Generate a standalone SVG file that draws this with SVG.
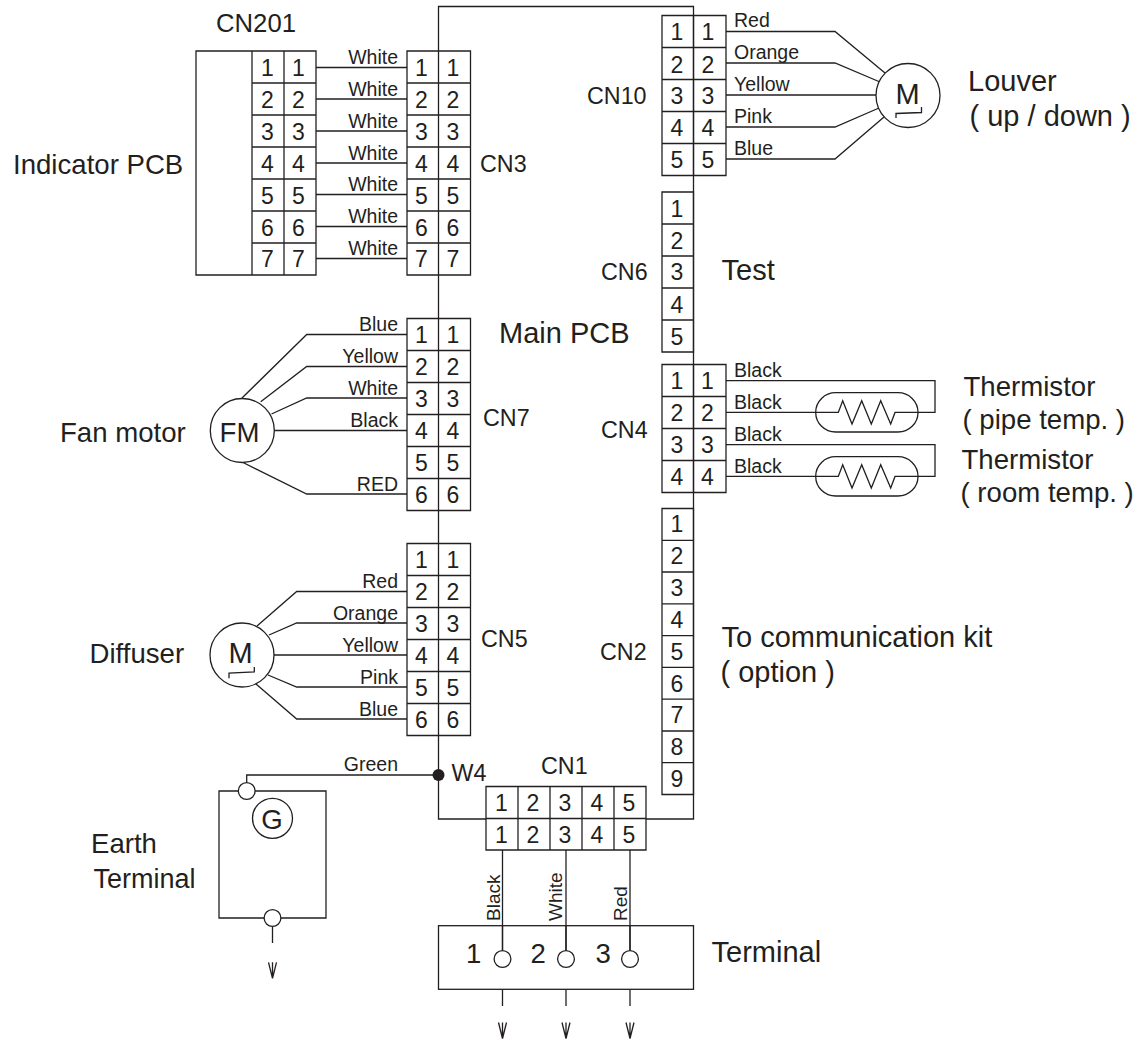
<svg xmlns="http://www.w3.org/2000/svg" width="1138" height="1040" viewBox="0 0 1138 1040">
<style>
text{font-family:"Liberation Sans",Arial,sans-serif;fill:#231f20}
.l{font-size:27.6px}
.b{font-size:29px}
.n{font-size:23.3px}
.p{font-size:23px;text-anchor:middle}
.w{font-size:19.5px}
.r{font-size:19px}
.e{text-anchor:end}
.s{fill:none;stroke:#231f20;stroke-width:1.3;stroke-linejoin:miter}
.c{fill:#fff;stroke:#231f20;stroke-width:1.3}
.m{text-anchor:middle}
</style>
<defs>
<path id="arrow" class="s" d="M0 0V16M-4 0L0 16L4 0"/>
<path id="res" class="s" d="M815.7 412.4H838.3L842.7 400.7L852 424L861.7 400.7L871.3 424L880.7 400.7L890.7 424L895 412.4H918"/>
</defs>
<rect width="1138" height="1040" fill="#fff"/>

<g id="main-pcb">
<path class="s" d="M438.5 51V6.5H693.5V819H646M486 819H438.5V735"/>
<path class="s" d="M438.5 275V318.5M438.5 510.5V543.5"/>
<text class="b" x="499" y="343">Main PCB</text>
</g>

<g id="connectors">
<path class="s" d="M316 67.5H407M316 99H407M316 131H407M316 163H407M316 194.5H407M316 226.5H407M316 258.5H407"/>
<path class="s" d="M407 334.5H306.7L242 398M407 366.5H306.7L260.7 401.7M407 398H306.7L271.5 414M407 430.5H274M407 494H306.7L243 462.5"/>
<path class="s" d="M407 591.5H296.7L257 626M407 623H296.7L269 635M407 655H274M407 687H296.7L268 675M407 719H296.7L256 684"/>
<path class="s" d="M726 31.5H835L885 73M726 63H835L880 82M726 95H876M726 127H835L879 108M726 159H835L884 117"/>
<path class="s" d="M726 380.7H935V412.4H918M726 412.4H815.7M726 444.7H935V476.4H918M726 476.4H815.7"/>
<path class="s" d="M438.5 775H246.7V783"/>
<path class="s" d="M502.5 850V950.5M566 850V950.5M630 850V950.5M502.5 989.5V1006M566 989.5V1006M630 989.5V1006M272.5 926.5V943"/>
<circle cx="438.5" cy="775" r="6" fill="#231f20"/>
<g class="w">
<text x="398" y="64" class="e">White</text><text x="398" y="96" class="e">White</text><text x="398" y="128" class="e">White</text><text x="398" y="159.5" class="e">White</text><text x="398" y="191" class="e">White</text><text x="398" y="222.5" class="e">White</text><text x="398" y="254.5" class="e">White</text>
<text x="398" y="331" class="e">Blue</text><text x="398" y="363" class="e">Yellow</text><text x="398" y="395" class="e">White</text><text x="398" y="427" class="e">Black</text><text x="398" y="491" class="e">RED</text>
<text x="398" y="588" class="e">Red</text><text x="398" y="620" class="e">Orange</text><text x="398" y="652" class="e">Yellow</text><text x="398" y="684" class="e">Pink</text><text x="398" y="716" class="e">Blue</text>
<text x="398" y="771" class="e">Green</text>
<text x="734" y="27">Red</text><text x="734" y="59">Orange</text><text x="734" y="91">Yellow</text><text x="734" y="123">Pink</text><text x="734" y="155">Blue</text>
<text x="734" y="376.7">Black</text><text x="734" y="408.5">Black</text><text x="734" y="440.5">Black</text><text x="734" y="472.5">Black</text>
</g>
<g class="r">
<text transform="translate(500 921) rotate(-90)">Black</text><text transform="translate(562 921) rotate(-90)">White</text><text transform="translate(627 921) rotate(-90)">Red</text>
</g>
</g>

<g id="cn201">
<path class="s" d="M196 51H316V275H196ZM252 51V275M284 51V275M252 83H316M252 115H316M252 147H316M252 179H316M252 211H316M252 243H316"/>
<g class="p"><text x="267.5" y="76">1</text><text x="298.5" y="76">1</text><text x="267.5" y="108">2</text><text x="298.5" y="108">2</text><text x="267.5" y="140">3</text><text x="298.5" y="140">3</text><text x="267.5" y="172">4</text><text x="298.5" y="172">4</text><text x="267.5" y="204">5</text><text x="298.5" y="204">5</text><text x="267.5" y="236">6</text><text x="298.5" y="236">6</text><text x="267.5" y="267">7</text><text x="298.5" y="267">7</text></g>
<text x="216" y="32" style="font-size:25.7px">CN201</text>
<text class="l" x="13" y="174">Indicator PCB</text>
</g>

<g id="cn3">
<path class="s" d="M407 51H470.5V275H407ZM438.5 51V275M407 83H470.5M407 115H470.5M407 147H470.5M407 179H470.5M407 211H470.5M407 243H470.5"/>
<g class="p"><text x="421.5" y="76">1</text><text x="453" y="76">1</text><text x="421.5" y="108">2</text><text x="453" y="108">2</text><text x="421.5" y="140">3</text><text x="453" y="140">3</text><text x="421.5" y="172">4</text><text x="453" y="172">4</text><text x="421.5" y="204">5</text><text x="453" y="204">5</text><text x="421.5" y="236">6</text><text x="453" y="236">6</text><text x="421.5" y="267">7</text><text x="453" y="267">7</text></g>
<text class="n" x="480" y="172">CN3</text>
</g>

<g id="cn7">
<path class="s" d="M407 318.5H470.5V510.5H407ZM438.5 318.5V510.5M407 350.5H470.5M407 382.5H470.5M407 414.5H470.5M407 446.5H470.5M407 478.5H470.5"/>
<g class="p"><text x="421.5" y="343">1</text><text x="453" y="343">1</text><text x="421.5" y="375">2</text><text x="453" y="375">2</text><text x="421.5" y="407">3</text><text x="453" y="407">3</text><text x="421.5" y="439">4</text><text x="453" y="439">4</text><text x="421.5" y="471">5</text><text x="453" y="471">5</text><text x="421.5" y="503">6</text><text x="453" y="503">6</text></g>
<text class="n" x="483" y="426">CN7</text>
</g>

<g id="cn5">
<path class="s" d="M407 543.5H470.5V735.5H407ZM438.5 543.5V735.5M407 575.5H470.5M407 607.5H470.5M407 639.5H470.5M407 671.5H470.5M407 703.5H470.5"/>
<g class="p"><text x="421.5" y="568">1</text><text x="453" y="568">1</text><text x="421.5" y="600">2</text><text x="453" y="600">2</text><text x="421.5" y="632">3</text><text x="453" y="632">3</text><text x="421.5" y="664">4</text><text x="453" y="664">4</text><text x="421.5" y="696">5</text><text x="453" y="696">5</text><text x="421.5" y="728">6</text><text x="453" y="728">6</text></g>
<text class="n" x="481" y="647">CN5</text>
</g>

<g id="cn10">
<path class="s" d="M662 15.5H726V175.5H662ZM693.5 15.5V175.5M662 47.5H726M662 79.5H726M662 111.5H726M662 143.5H726"/>
<g class="p"><text x="677" y="40">1</text><text x="708" y="40">1</text><text x="677" y="72.5">2</text><text x="708" y="72.5">2</text><text x="677" y="104">3</text><text x="708" y="104">3</text><text x="677" y="136">4</text><text x="708" y="136">4</text><text x="677" y="168">5</text><text x="708" y="168">5</text></g>
<text class="n" x="587" y="104">CN10</text>
</g>

<g id="cn6">
<path class="s" d="M662 192H693.5V352H662ZM662 224H693.5M662 256H693.5M662 288H693.5M662 320H693.5"/>
<g class="p"><text x="677" y="216.5">1</text><text x="677" y="248.5">2</text><text x="677" y="280">3</text><text x="677" y="312.5">4</text><text x="677" y="345">5</text></g>
<text class="n" x="601" y="279.5">CN6</text>
<text class="b" x="721.5" y="280">Test</text>
</g>

<g id="cn4">
<path class="s" d="M662 364.5H726V492.5H662ZM693.5 364.5V492.5M662 396.5H726M662 428.5H726M662 460.5H726"/>
<g class="p"><text x="677" y="389">1</text><text x="707.5" y="389">1</text><text x="677" y="421">2</text><text x="707.5" y="421">2</text><text x="677" y="453">3</text><text x="707.5" y="453">3</text><text x="677" y="485">4</text><text x="707.5" y="485">4</text></g>
<text class="n" x="601" y="437.5">CN4</text>
</g>

<g id="cn2">
<path class="s" d="M662 508.5H693.5V794.5H662ZM662 540.3H693.5M662 572H693.5M662 603.8H693.5M662 635.6H693.5M662 667.4H693.5M662 699.2H693.5M662 731H693.5M662 762.7H693.5"/>
<g class="p"><text x="677" y="532">1</text><text x="677" y="564">2</text><text x="677" y="596">3</text><text x="677" y="628">4</text><text x="677" y="659.5">5</text><text x="677" y="691.5">6</text><text x="677" y="723">7</text><text x="677" y="755">8</text><text x="677" y="787">9</text></g>
<text class="n" x="600" y="660">CN2</text>
<text class="b" x="721.5" y="647">To communication kit</text>
<text class="b" x="720.5" y="681.5">( option )</text>
</g>

<g id="cn1">
<path class="s" d="M486 786.5H646V850H486ZM486 818.5H646M518 786.5V850M550 786.5V850M582 786.5V850M614 786.5V850"/>
<g class="p"><text x="501.5" y="811">1</text><text x="533" y="811">2</text><text x="565" y="811">3</text><text x="597" y="811">4</text><text x="629" y="811">5</text><text x="501.5" y="843">1</text><text x="533" y="843">2</text><text x="565" y="843">3</text><text x="597" y="843">4</text><text x="629" y="843">5</text></g>
<text class="n" x="541" y="774">CN1</text>
<text class="n" x="451.5" y="781">W4</text>
</g>

<g id="louver">
<circle class="c" cx="908" cy="95.5" r="32"/>
<text class="b m" x="907.5" y="104">M</text>
<path class="s" d="M896 118V113.5L921.5 112.5V107"/>
<text class="b" x="968" y="90.5">Louver</text>
<text class="b" x="969.5" y="126">( up / down )</text>
</g>

<g id="thermistor-pipe">
<rect class="s" x="815.7" y="392.7" width="102.3" height="39.3" rx="20" ry="19.6"/>
<use href="#res"/>
<text class="l" x="963.5" y="396">Thermistor</text>
<text class="l" x="962.5" y="428.5">( pipe temp. )</text>
</g>

<g id="thermistor-room">
<rect class="s" x="815.7" y="456.7" width="102.3" height="39.3" rx="20" ry="19.6"/>
<use href="#res" y="64"/>
<text class="l" x="961.5" y="468.5">Thermistor</text>
<text class="l" x="960.5" y="501.5">( room temp. )</text>
</g>

<g id="fan-motor">
<circle class="c" cx="242.3" cy="430.5" r="32"/>
<text class="l m" x="239.5" y="441.5">FM</text>
<text class="l" x="60" y="441.5">Fan motor</text>
</g>

<g id="diffuser">
<circle class="c" cx="242" cy="655" r="32"/>
<text class="b m" x="240.5" y="662.5">M</text>
<path class="s" d="M229 678.3V673L254.3 672V667"/>
<text class="l" x="89.5" y="662.5">Diffuser</text>
</g>

<g id="earth-terminal">
<path class="s" d="M219 791H326V918H219Z"/>
<circle class="c" cx="246.7" cy="791" r="8.4"/>
<circle class="c" cx="272.5" cy="918" r="8.4"/>
<circle class="c" cx="272.5" cy="818.3" r="20"/>
<text class="l m" x="272" y="828.5">G</text>
<use href="#arrow" x="272.5" y="962.3"/>
<text class="l" x="91" y="853">Earth</text>
<text class="l" x="93.5" y="887.5" style="font-size:27px">Terminal</text>
</g>

<g id="terminal">
<rect class="s" x="438.5" y="925.7" width="255" height="63.6"/>
<circle class="c" cx="502.5" cy="959" r="8.4"/>
<circle class="c" cx="566" cy="959" r="8.4"/>
<circle class="c" cx="630" cy="959" r="8.4"/>
<path class="s" d="M502.5 925.7V950.5M566 925.7V950.5M630 925.7V950.5"/>
<g class="l"><text x="466" y="962.5">1</text><text x="530.5" y="962.5">2</text><text x="595.5" y="962.5">3</text></g>
<use href="#arrow" x="502.5" y="1022.5"/><use href="#arrow" x="566" y="1022.5"/><use href="#arrow" x="630" y="1022.5"/>
<text class="b" x="711.5" y="962">Terminal</text>
</g>
</svg>
